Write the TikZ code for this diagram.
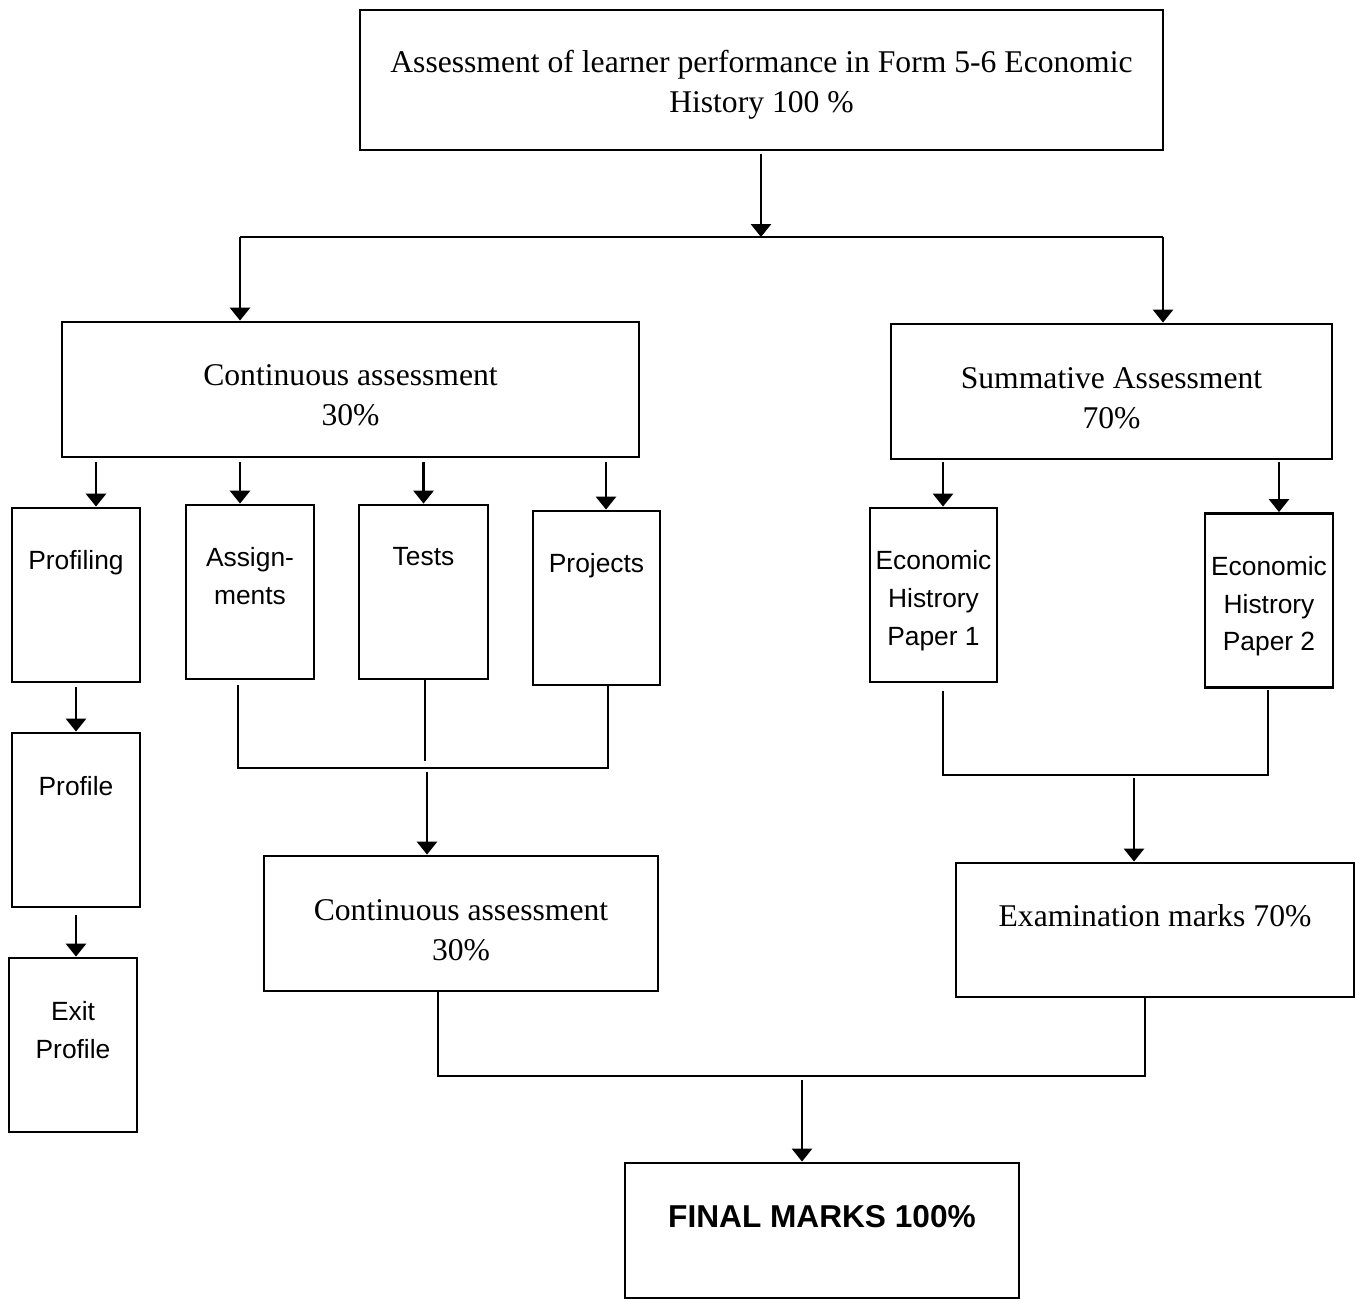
\documentclass[tikz,border=0pt]{standalone}
\usepackage{fontspec}
\setmainfont{Liberation Serif}
\setsansfont{Liberation Sans}
\usetikzlibrary{positioning}
\usetikzlibrary{arrows.meta}

\tikzset{
  box/.style={draw, line width=0.8pt, rectangle, inner sep=0pt},
  bigbox/.style={box, minimum height=1.35cm},
  smallbox/.style={box, minimum width=1.28cm, minimum height=1.74cm},
  toptext/.style={inner sep=0pt, align=center, font=\sffamily\fontsize{7.5}{10.7}\selectfont},
  toprm/.style={inner sep=0pt, align=center, font=\fontsize{9}{11.4}\selectfont},
  arr/.style={line width=0.8pt, -{Triangle[width=0.2cm,length=0.13cm]}},
  link/.style={line width=0.8pt}
}

\begin{document}
\begin{tikzpicture}

\useasboundingbox (0,0) rectangle (13.57,-12.98);

% boxes
\node[bigbox, minimum width=8.03cm, minimum height=1.40cm] (top) at (7.615,-0.80) {};

\node[bigbox, minimum width=5.77cm] (ca) at (3.505,-3.895) {};
\node[bigbox, minimum width=4.41cm] (sum) at (11.115,-3.915) {};

\node[smallbox] (prof) at (0.76,-5.95) {};
\node[smallbox] (assign) at (2.50,-5.92) {};
\node[smallbox, minimum width=1.29cm] (tests) at (4.235,-5.92) {};
\node[smallbox, minimum width=1.27cm] (proj) at (5.965,-5.98) {};
\node[smallbox, minimum width=1.27cm] (pap1) at (9.335,-5.95) {};
\node[smallbox] (pap2) at (12.69,-6.005) {};

\node[smallbox] (profile) at (0.76,-8.20) {};
\node[smallbox] (exit) at (0.73,-10.45) {};

\node[bigbox, minimum width=3.94cm] (ca2) at (4.61,-9.235) {};
\node[bigbox, minimum width=3.98cm, minimum height=1.34cm] (exam) at (11.55,-9.30) {};
\node[bigbox, minimum width=3.94cm] (final) at (8.22,-12.305) {};

% texts in the big boxes
\node[toprm] (topt) at ([yshift=-0.05cm]top.center) {Assessment of learner performance in Form 5-6 Economic\\History 100 \%};
\node[toprm] (cat) at ([yshift=-0.06cm]ca.center) {Continuous assessment\\30\%};
\node[toprm] (sumt) at ([yshift=-0.07cm]sum.center) {Summative Assessment\\70\%};
\node[toprm] (ca2t) at ([yshift=-0.07cm]ca2.center) {Continuous assessment\\30\%};

% texts near the top of the boxes
\node[toptext, below=0.435cm of prof.north] (proft) {Profiling};
\node[toptext, below=0.435cm of assign.north] (assignt) {Assign-\\ments};
\node[toptext, below=0.435cm of tests.north] (testst) {Tests};
\node[toptext, below=0.435cm of proj.north] (projt) {Projects};
\node[toptext, below=0.435cm of pap1.north] (pap1t) {Economic\\Histrory\\Paper 1};
\node[toptext, below=0.435cm of pap2.north] (pap2t) {Economic\\Histrory\\Paper 2};
\node[toptext, below=0.445cm of profile.north] (profilet) {Profile};
\node[toptext, below=0.445cm of exit.north] (exitt) {Exit\\Profile};
\node[toprm, below=0.425cm of exam.north] (examt) {Examination marks 70\%};
\node[toptext, font=\sffamily\bfseries\fontsize{9}{11}\selectfont, below=0.43cm of final.north] (finalt) {FINAL MARKS 100\%};

% top split
\coordinate (split) at (7.61,-2.37);
\coordinate (barL) at (2.40,-2.37);
\coordinate (barR) at (11.63,-2.37);
\draw[arr] ([yshift=-0.03cm]top.south -| split) -- (split);
\draw[link] (barL) -- (barR);
\draw[arr] (barL) -- (barL |- ca.north);
\draw[arr] (barR) -- (barR |- sum.north);

% continuous assessment parts
\draw[arr] ([xshift=0.2cm,yshift=-0.04cm]prof.north |- ca.south) -- ([xshift=0.2cm]prof.north);
\draw[arr] ([xshift=-0.1cm,yshift=-0.04cm]assign.north |- ca.south) -- ([xshift=-0.1cm]assign.north);
\draw[arr] ([yshift=-0.04cm]tests.north |- ca.south) -- (tests.north);
\draw[arr] ([xshift=0.095cm,yshift=-0.04cm]proj.north |- ca.south) -- ([xshift=0.095cm]proj.north);

% summative parts
\draw[arr] ([xshift=0.095cm,yshift=-0.02cm]pap1.north |- sum.south) -- ([xshift=0.095cm]pap1.north);
\draw[arr] ([xshift=0.1cm,yshift=-0.02cm]pap2.north |- sum.south) -- ([xshift=0.1cm]pap2.north);

% profiling chain
\draw[arr] ([yshift=-0.04cm]prof.south) -- (profile.north);
\draw[arr] ([yshift=-0.07cm]profile.south) -- (profile.south |- exit.north);

% bracket under the parts
\coordinate (joinA) at (2.38,-7.68);
\coordinate (joinP) at (6.08,-7.68);
\coordinate (joinC) at (4.27,-7.72);
\draw[link] ([yshift=-0.05cm]assign.south -| joinA) -- (joinA) -- (joinP) -- (proj.south -| joinP);
\draw[link] ([xshift=0.015cm]tests.south) -- ++(0,-0.81);
\draw[arr] (joinC) -- (joinC |- ca2.north);

% bracket under the papers
\coordinate (joinE) at (9.43,-7.75);
\coordinate (joinF) at (12.68,-7.75);
\coordinate (joinG) at (11.34,-7.78);
\draw[link] ([yshift=-0.08cm]pap1.south -| joinE) -- (joinE) -- (joinF) -- ([yshift=-0.01cm]pap2.south -| joinF);
\draw[arr] (joinG) -- (joinG |- exam.north);

% final bracket
\coordinate (joinH) at (4.38,-10.76);
\coordinate (joinI) at (11.45,-10.76);
\coordinate (joinJ) at (8.02,-10.80);
\draw[link] (ca2.south -| joinH) -- (joinH) -- (joinI) -- (exam.south -| joinI);
\draw[arr] (joinJ) -- (joinJ |- final.north);

\end{tikzpicture}
\end{document}
